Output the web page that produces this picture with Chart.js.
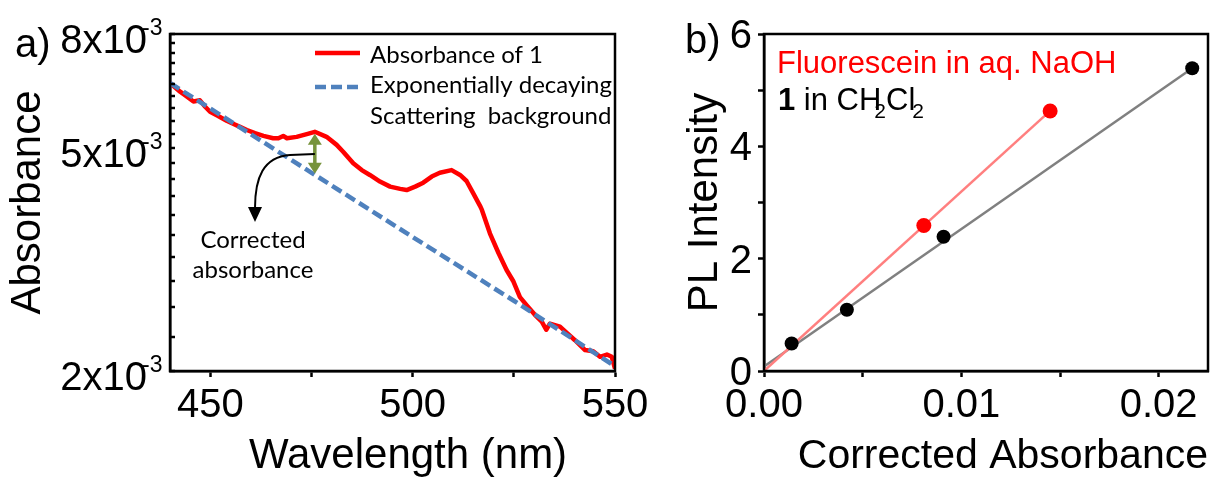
<!DOCTYPE html>
<html>
<head>
<meta charset="utf-8">
<script src="https://cdn.jsdelivr.net/npm/chart.js@4.4.1/dist/chart.umd.min.js"></script>
<style>
html, body { margin: 0; padding: 0; background: #fff; }
#wrap { position: relative; width: 1218px; height: 478px; overflow: hidden; background: #fff; }
#pa { position: absolute; left: 0; top: 0; width: 660px; height: 478px; }
#pb { position: absolute; left: 660px; top: 0; width: 558px; height: 478px; }
</style>
</head>
<body>
<div id="wrap">
  <div id="pa"><canvas id="ca" width="660" height="478"></canvas></div>
  <div id="pb"><canvas id="cb" width="558" height="478"></canvas></div>
</div>
<script>
// ---------- Panel a: absorbance spectrum ----------
const wavelengthNm = [440.0, 442.5, 443.7, 445.8, 447.4, 448.7, 449.9, 451.9, 454.0, 455.6,
  457.3, 459.0, 461.0, 463.1, 465.5, 466.8, 468.0, 468.9, 471.3, 473.8,
  475.8, 478.7, 481.2, 482.8, 485.3, 487.4, 489.4, 491.9, 494.4, 496.9,
  498.5, 500.6, 502.6, 504.7, 506.7, 509.6, 511.7, 513.3, 515.0, 516.6,
  517.1, 519.1, 521.2, 523.2, 524.9, 526.5, 528.2, 530.2, 531.9, 533.0,
  533.9, 536.4, 538.1, 540.1, 542.6, 544.6, 546.3, 548.0, 549.2, 550.0];
const absorbanceOf1 = [0.00654, 0.00631, 0.00622, 0.00606, 0.00609, 0.00593, 0.00581, 0.00571, 0.00560, 0.00553,
  0.00546, 0.00539, 0.00532, 0.00526, 0.00521, 0.00521, 0.00526, 0.00521, 0.00524, 0.00530,
  0.00535, 0.00524, 0.00507, 0.00493, 0.00470, 0.00457, 0.00448, 0.00436, 0.00427, 0.00423,
  0.00421, 0.00427, 0.00434, 0.00445, 0.00452, 0.00457, 0.00448, 0.00437, 0.00415, 0.00395,
  0.00388, 0.00352, 0.00325, 0.00303, 0.00289, 0.00271, 0.00262, 0.00252, 0.00245, 0.00237,
  0.00243, 0.00240, 0.00234, 0.00227, 0.00218, 0.00217, 0.00212, 0.00214, 0.00212, 0.00202];
const backgroundNm = [440, 475, 500, 525, 550];
const backgroundAbs = [0.00654, 0.00452, 0.00347, 0.00267, 0.00204];
const absXTicks = [450, 475, 500, 525, 550];
const absXTickLabels = ['450', '', '500', '', '550'];
const absYTicks = [0.0020, 0.0023, 0.0026, 0.0029, 0.0032, 0.0035, 0.0038, 0.0041, 0.0044, 0.0047,
  0.0050, 0.0053, 0.0056, 0.0059, 0.0062, 0.0065, 0.0068, 0.0071, 0.0074, 0.0077, 0.0080];
const absYMajor = [0.002, 0.005, 0.008];
const absYMajorLabels = ['2x10', '5x10', '8x10'];
const absYExponent = '-3';
const legendLabels = ['Absorbance of 1', 'Exponentially decaying', 'Scattering  background'];
const correctedText = ['Corrected', 'absorbance'];
const correctedArrowNm = 475.8;
const correctedArrowAbs = [0.00535, 0.00452];

// ---------- Panel b: PL intensity vs corrected absorbance ----------
const fluoAbs = [0.0081, 0.0145];
const fluoPL = [2.59, 4.63];
const fluoFitAbs = [0, 0.0145];
const fluoFitPL = [0, 4.63];
const cmpdAbs = [0.0014, 0.0042, 0.0091, 0.0217];
const cmpdPL = [0.49, 1.09, 2.39, 5.39];
const cmpdFitAbs = [0, 0.0217];
const cmpdFitPL = [0.08, 5.39];
const plXTicks = [0, 0.005, 0.01, 0.015, 0.02];
const plXTickLabels = ['0.00', '', '0.01', '', '0.02'];
const plYTicks = [0, 1, 2, 3, 4, 5, 6];
const plYTickLabels = ['0', '', '2', '', '4', '', '6'];

Chart.defaults.font.family = '"Liberation Sans", Arial, sans-serif';
Chart.defaults.color = '#000';

const pts = (xs, ys) => xs.map((x, i) => ({ x: x, y: ys[i] }));
const AF = '"Liberation Sans", Arial, sans-serif';
const CF = 'Lato, "Open Sans", sans-serif';

function gridOpts(len) {
  return { display: true, drawOnChartArea: false, drawTicks: true, tickLength: len, tickWidth: 2.5, tickColor: '#000' };
}
const borderOpts = { display: true, color: '#000', width: 2.5 };
function fixWidth(w) {
  return s => { s.width = w; s.paddingTop = 0; s.paddingBottom = 0; };
}
function fixHeight(h) {
  return s => { s.height = h; s.paddingLeft = 0; s.paddingRight = 0; };
}

const panelAPlugin = {
  id: 'panelA',
  afterDraw(chart) {
    const { ctx, chartArea: ca, scales: { x, y } } = chart;
    ctx.save();
    ctx.strokeStyle = '#000';
    ctx.lineWidth = 2.5;
    ctx.strokeRect(ca.left, ca.top, ca.right - ca.left, ca.bottom - ca.top);

    // inward tick marks of the log axis, placed by the scale
    ctx.lineWidth = 2.5;
    y.ticks.forEach(t => {
      const py = Math.round(y.getPixelForValue(t.value));
      ctx.beginPath(); ctx.moveTo(ca.left, py); ctx.lineTo(ca.left + 5, py); ctx.stroke();
    });

    ctx.fillStyle = '#000';
    ctx.textAlign = 'left';
    ctx.textBaseline = 'alphabetic';
    ctx.font = '23px ' + AF;
    absYMajor.forEach(v => {
      const py = y.getPixelForValue(v);
      ctx.fillText(absYExponent, ca.left - 28, py + 1);
    });
    ctx.font = '40px ' + AF;
    ctx.fillText('a)', 15, 57);
    ctx.font = '42px ' + AF;
    ctx.textAlign = 'center';
    ctx.fillText('Wavelength (nm)', 408, 468);

    // legend
    ctx.lineWidth = 4.5;
    ctx.strokeStyle = '#ff0000';
    ctx.beginPath(); ctx.moveTo(315, 53); ctx.lineTo(360, 53); ctx.stroke();
    ctx.strokeStyle = '#4f81bd';
    ctx.setLineDash([11, 5]);
    ctx.beginPath(); ctx.moveTo(315, 87); ctx.lineTo(362, 87); ctx.stroke();
    ctx.setLineDash([]);
    ctx.font = '24px ' + CF;
    ctx.textAlign = 'left';
    ctx.fillStyle = '#000';
    ctx.fillText(legendLabels[0], 370, 63);
    ctx.fillText(legendLabels[1], 370, 93);
    ctx.fillText(legendLabels[2], 370, 124);

    // green double arrow between spectrum and background
    const ax = x.getPixelForValue(correctedArrowNm);
    const y1 = y.getPixelForValue(correctedArrowAbs[0]) + 2;
    const y2 = y.getPixelForValue(correctedArrowAbs[1]) + 1;
    const g = '#77933c';
    ctx.strokeStyle = g; ctx.fillStyle = g; ctx.lineWidth = 3.5;
    ctx.beginPath(); ctx.moveTo(ax, y1 + 9); ctx.lineTo(ax, y2 - 9); ctx.stroke();
    ctx.beginPath(); ctx.moveTo(ax, y1); ctx.lineTo(ax - 7, y1 + 11); ctx.lineTo(ax + 7, y1 + 11); ctx.closePath(); ctx.fill();
    ctx.beginPath(); ctx.moveTo(ax, y2); ctx.lineTo(ax - 7, y2 - 11); ctx.lineTo(ax + 7, y2 - 11); ctx.closePath(); ctx.fill();

    // black curved arrow
    ctx.strokeStyle = '#000'; ctx.fillStyle = '#000'; ctx.lineWidth = 2;
    ctx.beginPath();
    ctx.moveTo(ax, 154);
    ctx.lineTo(290, 155);
    ctx.bezierCurveTo(263, 157, 255, 178, 255, 208);
    ctx.stroke();
    ctx.beginPath(); ctx.moveTo(255, 222); ctx.lineTo(248, 207); ctx.lineTo(262, 207); ctx.closePath(); ctx.fill();

    ctx.font = '24px ' + CF;
    ctx.textAlign = 'center';
    ctx.fillText(correctedText[0], 253, 248);
    ctx.fillText(correctedText[1], 253, 278);
    ctx.restore();
  }
};

new Chart(document.getElementById('ca'), {
  type: 'line',
  data: {
    datasets: [
      { label: legendLabels[1] + ' ' + legendLabels[2], data: pts(backgroundNm, backgroundAbs),
        borderColor: '#4f81bd', borderWidth: 4.5, borderDash: [11, 5], pointRadius: 0, tension: 0, order: 0 },
      { label: legendLabels[0], data: pts(wavelengthNm, absorbanceOf1),
        borderColor: '#ff0000', borderWidth: 4.5, pointRadius: 0, tension: 0, borderJoinStyle: 'round', order: 1 }
    ]
  },
  options: {
    responsive: false, animation: false,
    layout: { padding: { left: 0, top: 34, right: 45, bottom: 0 } },
    plugins: { legend: { display: false }, tooltip: { enabled: false } },
    scales: {
      x: {
        type: 'linear', min: 440, max: 550,
        afterBuildTicks: s => { s.ticks = absXTicks.map(v => ({ value: v })); },
        afterFit: fixHeight(107),
        grid: gridOpts(6), border: borderOpts,
        ticks: { autoSkip: false, maxRotation: 0, padding: 5, font: { size: 40 },
          callback: (v, i) => absXTickLabels[i] },
        title: { display: false }
      },
      y: {
        type: 'logarithmic', min: 0.002, max: 0.008,
        afterBuildTicks: s => { s.ticks = absYTicks.map(v => ({ value: v })); },
        afterFit: fixWidth(170),
        grid: { display: true, drawOnChartArea: false, drawTicks: false },
        border: borderOpts,
        ticks: { autoSkip: false, padding: 23, labelOffset: 8, font: { size: 40 },
          callback: (v, i) => {
            const k = absYMajor.findIndex(m => Math.abs(m - absYTicks[i]) < 1e-9);
            return k >= 0 ? absYMajorLabels[k] : '';
          } },
        title: { display: true, text: 'Absorbance', font: { size: 42 }, padding: { top: 3, bottom: 0 } }
      }
    }
  },
  plugins: [panelAPlugin]
});

const panelBPlugin = {
  id: 'panelB',
  afterDraw(chart) {
    const { ctx, chartArea: ca } = chart;
    ctx.save();
    ctx.strokeStyle = '#000';
    ctx.lineWidth = 2.5;
    ctx.strokeRect(ca.left, ca.top, ca.right - ca.left, ca.bottom - ca.top);
    ctx.textAlign = 'left';
    ctx.textBaseline = 'alphabetic';
    ctx.fillStyle = '#000';
    ctx.font = '40px ' + AF;
    ctx.fillText('b)', 25, 53);

    ctx.fillStyle = '#ff0000';
    ctx.font = '31px ' + AF;
    ctx.fillText('Fluorescein in aq. NaOH', 117, 73);

    ctx.fillStyle = '#000';
    let cx = 118;
    const base = 110;
    ctx.font = 'bold 31px ' + AF;
    ctx.fillText('1', cx, base); cx += ctx.measureText('1').width;
    ctx.font = '31px ' + AF;
    ctx.fillText(' in CH', cx, base); cx += ctx.measureText(' in CH').width;
    ctx.font = '21px ' + AF;
    cx -= 7;
    ctx.fillText('2', cx, base + 8); cx += ctx.measureText('2').width;
    ctx.font = '31px ' + AF;
    ctx.fillText('Cl', cx, base); cx += ctx.measureText('Cl').width;
    ctx.font = '21px ' + AF;
    cx -= 3;
    ctx.fillText('2', cx, base + 8);
    ctx.restore();
  }
};

new Chart(document.getElementById('cb'), {
  type: 'scatter',
  data: {
    datasets: [
      { label: 'Fluorescein in aq. NaOH', data: pts(fluoAbs, fluoPL), pointRadius: 7.5,
        pointBackgroundColor: '#ff0000', pointBorderWidth: 0, showLine: false, order: 0 },
      { label: '1 in CH2Cl2', data: pts(cmpdAbs, cmpdPL), pointRadius: 7,
        pointBackgroundColor: '#000', pointBorderWidth: 0, showLine: false, order: 0 },
      { label: 'Fluorescein fit', data: pts(fluoFitAbs, fluoFitPL), showLine: true, pointRadius: 0,
        borderColor: '#ff7f7f', borderWidth: 2.5, order: 1 },
      { label: '1 fit', data: pts(cmpdFitAbs, cmpdFitPL), showLine: true, pointRadius: 0,
        borderColor: '#808080', borderWidth: 2.5, order: 1 }
    ]
  },
  options: {
    responsive: false, animation: false,
    layout: { padding: { left: 0, top: 34, right: 10, bottom: 0 } },
    plugins: { legend: { display: false }, tooltip: { enabled: false } },
    scales: {
      x: {
        type: 'linear', min: 0, max: 0.0225,
        afterBuildTicks: s => { s.ticks = plXTicks.map(v => ({ value: v })); },
        afterFit: fixHeight(107),
        grid: gridOpts(6), border: borderOpts,
        ticks: { autoSkip: false, maxRotation: 0, padding: 5, font: { size: 40 },
          callback: (v, i) => plXTickLabels[i] },
        title: { display: true, text: 'Corrected Absorbance', align: 'end', font: { size: 41 },
          padding: { top: 0, bottom: -3 } }
      },
      y: {
        type: 'linear', min: 0, max: 6,
        afterBuildTicks: s => { s.ticks = plYTicks.map(v => ({ value: v })); },
        afterFit: fixWidth(104),
        grid: gridOpts(6), border: borderOpts,
        ticks: { autoSkip: false, padding: 6, labelOffset: 3, font: { size: 40 },
          callback: (v, i) => plYTickLabels[i] },
        title: { display: true, text: 'PL Intensity', font: { size: 42 }, padding: { top: 20, bottom: 0 } }
      }
    }
  },
  plugins: [panelBPlugin]
});
</script>
</body>
</html>
